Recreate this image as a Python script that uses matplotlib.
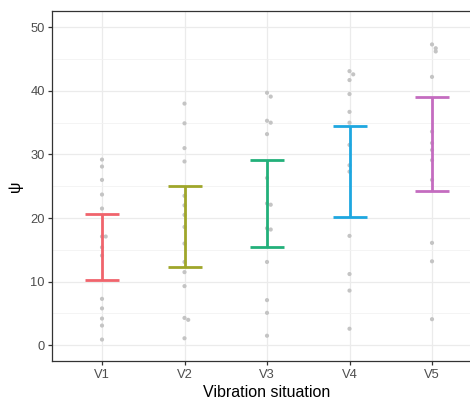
import matplotlib
matplotlib.use("Agg")
import matplotlib.pyplot as plt
import numpy as np

plt.rcParams['font.family'] = ['Liberation Sans', 'DejaVu Sans']

groups = ["V1", "V2", "V3", "V4", "V5"]
colors = ["#F0646C", "#9FA62A", "#22B07A", "#1EA7E0", "#C46CC0"]

v1 = [29.2, 28.1, 26.0, 23.7, 21.5, 17.1, 17.1, 15.4, 14.1, 7.3, 5.8, 4.2, 3.1, 0.9]
v2 = [38.0, 34.9, 31.0, 28.9, 23.5, 22.0, 20.5, 18.6, 16.0, 13.1, 11.5, 9.3, 4.3, 4.0, 1.1]
v3 = [39.7, 39.1, 35.3, 35.0, 33.2, 26.3, 22.3, 22.1, 18.4, 18.2, 13.1, 7.1, 5.1, 1.5]
v4 = [43.1, 42.6, 41.7, 39.5, 36.7, 35.0, 31.5, 28.3, 27.3, 17.2, 11.2, 8.6, 2.6]
v5 = [47.3, 46.7, 46.2, 42.2, 33.6, 31.8, 30.7, 29.1, 26.0, 16.1, 13.2, 4.1]
values = [v1, v2, v3, v4, v5]

# error bar ends
err_low = [10.2, 12.3, 15.5, 20.1, 24.3]
err_high = [20.6, 25.0, 29.2, 34.5, 39.1]

fig = plt.figure(figsize=(4.7, 4.01), dpi=100)
ax = fig.add_axes([0.1117, 0.0998, 0.9128, 0.8728])

ax.set_xlim(0.4, 5.6)
ax.set_ylim(-2.47, 52.56)

ax.set_yticks([0, 10, 20, 30, 40, 50])
ax.set_yticks([5, 15, 25, 35, 45], minor=True)
ax.set_xticks(range(1, 6))
ax.set_xticklabels(groups)

ax.grid(True, which='major', color='#EBEBEB', linewidth=0.9)
ax.grid(True, which='minor', axis='y', color='#F2F2F2', linewidth=0.6)
ax.set_axisbelow(True)

for i, vals in enumerate(values):
    xpos = i + 1
    # nudge overlapping points a little to the right
    xs = []
    prev = None
    for v in vals:
        if prev is not None and abs(v - prev) < 0.8:
            xs.append(xpos + 0.045)
        else:
            xs.append(xpos)
        prev = v
    ax.scatter(xs, vals, s=9, color='#C4C4C4', edgecolors='none', zorder=2)

    mid = (err_low[i] + err_high[i]) / 2
    half = (err_high[i] - err_low[i]) / 2
    ax.errorbar(xpos, mid, yerr=half, fmt='none', ecolor=colors[i],
                elinewidth=2.0, capsize=12.5, capthick=2.0, zorder=3)

for s in ['left', 'bottom', 'top', 'right']:
    ax.spines[s].set_color('#333333')
    ax.spines[s].set_linewidth(0.9)

ax.tick_params(axis='both', which='major', length=3, width=0.9, color='#333333',
               labelsize=9.3, labelcolor='#4D4D4D', pad=2.5)
ax.tick_params(axis='y', which='minor', length=0)

ax.set_xlabel("Vibration situation", fontsize=11.5, color='black', labelpad=3)
ax.set_ylabel("ψ", fontsize=11.5, color='black', labelpad=5)

fig.savefig("out.png", dpi=100)
